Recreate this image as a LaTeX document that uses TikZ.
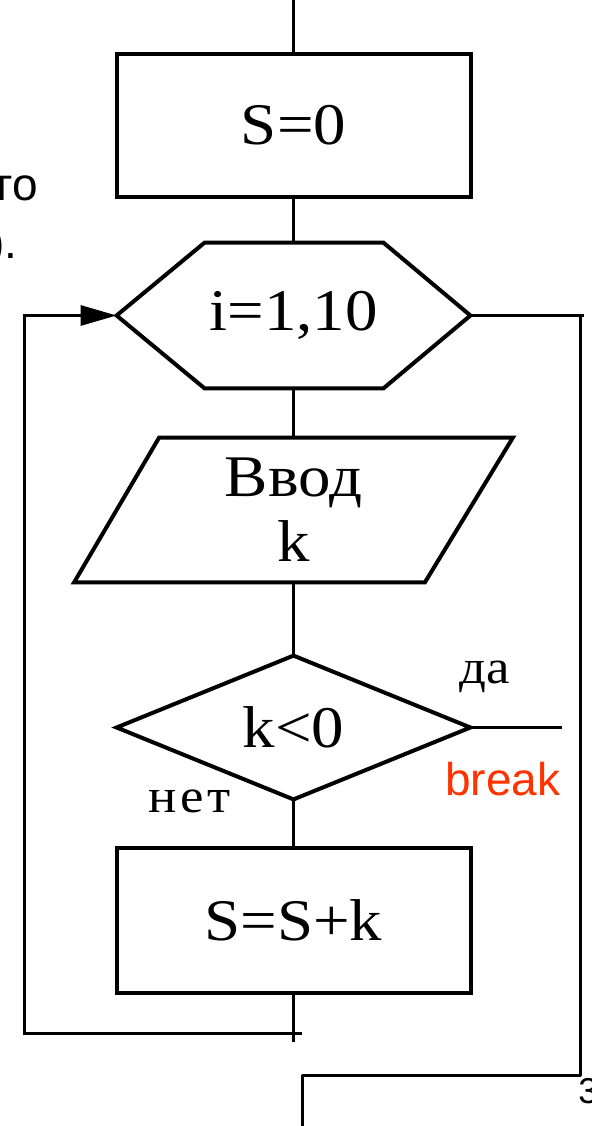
\documentclass[tikz,border=0pt]{standalone}
\usepackage{fontspec}
\setmainfont{Liberation Serif}[FakeStretch=1.1]
\newfontfamily\arialfont{Liberation Sans}
\newfontfamily\spacedserif{Liberation Serif}[FakeStretch=1.1,LetterSpace=8]
\usetikzlibrary{arrows.meta}
\definecolor{brkred}{RGB}{255,51,0}
\begin{document}
\begin{tikzpicture}[x=0.5pt,y=-0.5pt,
  shapeline/.style={line width=2pt},
  conn/.style={line width=1.5pt},
  frame/.style={draw=none, inner sep=0pt, align=center, font=\fontsize{29.5}{32.5}\selectfont},
  procbox/.style={frame, draw, line width=2pt, minimum width=177pt, minimum height=72pt},
  lbl/.style={inner sep=0pt, font=\fontsize{24}{26}\selectfont},
  sans/.style={inner sep=0pt, font=\arialfont\fontsize{23}{26}\selectfont},
]
\useasboundingbox (0,0) rectangle (591,1126);

% nodes
\coordinate (top) at (293.5,0);
\node[procbox, minimum height=71.5pt] (s0) at (293.5,125.5) {S=0};
\node[frame, minimum width=176.5pt, minimum height=72.5pt] (loop) at (293.5,315.5) {i=1,10};
\node[frame, minimum width=219pt, minimum height=72pt] (in) at (293.5,510) {Ввод\\k};
\node[frame, minimum width=176.5pt, minimum height=71.5pt] (cond) at (293.5,727.5) {k<0};
\node[procbox, minimum height=72.5pt] (sum) at (293.5,920.5) {S=S+k};

% outlines
\draw[shapeline] (loop.west) -- ([xshift=44pt]loop.north west) -- ([xshift=-43.5pt]loop.north east)
  -- (loop.east) -- ([xshift=-43.5pt]loop.south east) -- ([xshift=44pt]loop.south west) -- cycle;
\draw[shapeline] ([xshift=42.5pt]in.north west) -- (in.north east) -- ([xshift=-44pt]in.south east)
  -- (in.south west) -- cycle;
\draw[shapeline] (cond.north) -- (cond.east) -- (cond.south) -- (cond.west) -- cycle;

% helper coordinates
\coordinate (tail) at (293.5,1042);
\coordinate (lb1) at (302,1033);
\coordinate (lb2) at (24,1033);
\coordinate (ex1) at (584,315.5);
\coordinate (ex2) at (580,315.5);
\coordinate (ex3) at (580,1075);
\coordinate (ex4) at (302,1075);
\coordinate (ex5) at (302,1126);
\coordinate (brk) at (562,727.5);

% connectors
\draw[conn] (top) -- (s0.north);
\draw[conn] (s0.south) -- (loop.north);
\draw[conn] (loop.south) -- (in.north);
\draw[conn] (in.south) -- (cond.north);
\draw[conn] (cond.south) -- (sum.north);
\draw[conn] (sum.south) -- (tail);
\draw[conn, -{Triangle[length=18pt,width=10pt]}] (lb1) -- (lb2) -- (lb2 |- loop.west) -- (loop.west);
\draw[conn] (loop.east) -- (ex1);
\draw[conn, line join=round] (ex2) -- (ex3) -- (ex4) -- (ex5);
\draw[conn] (cond.east) -- (brk);

% labels
\node[lbl, anchor=base west] (yes) at (459,683) {да};
\node[lbl, anchor=base west, font=\spacedserif\fontsize{24}{26}\selectfont] (no) at (148,812) {нет};
\node[sans, anchor=base west, text=brkred] (brklbl) at (445,795) {break};
\node[sans, anchor=base east] (frag1) at (38,200) {то};
\node[sans, anchor=base east] (frag2) at (18,258) {).};
\node[inner sep=0pt, font=\arialfont\fontsize{18}{20}\selectfont, anchor=base west] (pg) at (578,1103) {3};
\end{tikzpicture}
\end{document}
